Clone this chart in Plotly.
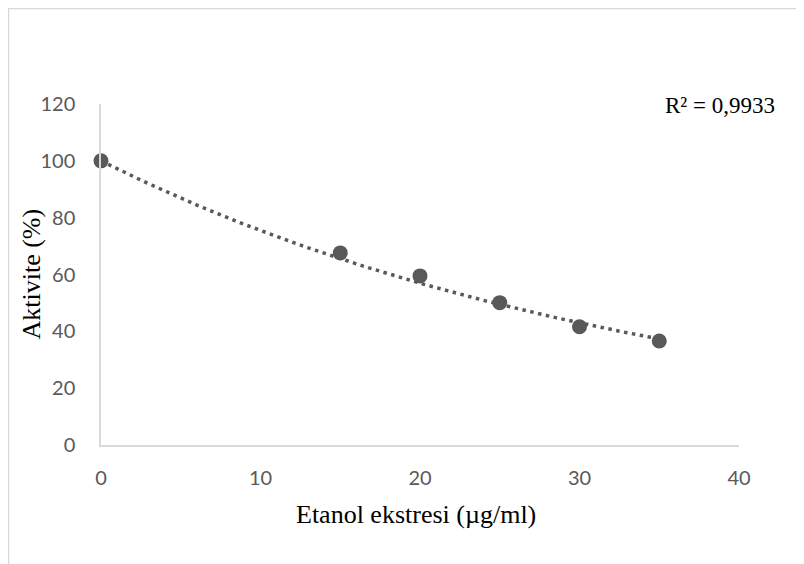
import numpy as np
import plotly.graph_objects as go

concentration = [0, 15, 20, 25, 30, 35]
activity = [100, 67.6, 59.5, 50.1, 41.6, 36.6]
x_ticks = [0, 10, 20, 30, 40]
y_ticks = [0, 20, 40, 60, 80, 100, 120]
r2_label = "R² = 0,9933"
trend_intercept = 100.0  # exponential trendline with intercept set to 100

# exponential trendline, least squares in log space with fixed intercept
xc = np.array(concentration, dtype=float)
yc = np.array(activity, dtype=float)
b = np.sum(xc * (np.log(yc) - np.log(trend_intercept))) / np.sum(xc ** 2)
xt = np.linspace(xc.min(), xc.max(), 300)
yt = trend_intercept * np.exp(b * xt)

grey = "#595959"
tick_font = dict(family="Lato, Open Sans, sans-serif", size=20, color=grey)
serif = "Liberation Serif, Times New Roman, serif"

fig = go.Figure()
fig.add_trace(go.Scatter(x=xt, y=yt, mode="lines",
                         line=dict(color=grey, width=3.5, dash="3.5px,4.5px"),
                         hoverinfo="skip", showlegend=False))
fig.add_trace(go.Scatter(x=concentration, y=activity, mode="markers",
                         marker=dict(color=grey, size=15),
                         cliponaxis=False, showlegend=False))

fig.update_layout(
    width=796, height=556,
    paper_bgcolor="white", plot_bgcolor="white",
    margin=dict(l=93, r=65, t=96, b=119),
    xaxis=dict(range=[0, 40], tickvals=x_ticks, showgrid=False, zeroline=False,
               showline=True, linecolor="#d9d9d9", linewidth=1.5,
               ticks="", ticklabelstandoff=14, tickfont=tick_font),
    yaxis=dict(range=[0, 120], tickvals=y_ticks, showgrid=False, zeroline=False,
               showline=True, linecolor="#d9d9d9", linewidth=1.5,
               ticks="", ticklabelstandoff=20, tickfont=tick_font),
    shapes=[dict(type="rect", xref="paper", yref="paper", x0=-0.145, x1=1.2, y0=-0.6, y1=1.28,
                 line=dict(color="#d9d9d9", width=1.5), fillcolor="rgba(0,0,0,0)", layer="below")],
    annotations=[
        dict(text=r2_label, xref="paper", yref="paper", x=1.0596, y=0.997,
             xanchor="right", yanchor="middle", showarrow=False,
             font=dict(family=serif, size=23, color="black")),
        dict(text="Etanol ekstresi (µg/ml)", xref="paper", yref="paper", x=0.4937, y=-0.205,
             xanchor="center", yanchor="middle", showarrow=False,
             font=dict(family=serif, size=26, color="black")),
        dict(text="Aktivite (%)", xref="paper", yref="paper", x=-0.1097, y=0.5,
             xanchor="center", yanchor="middle", showarrow=False, textangle=-90,
             font=dict(family=serif, size=26, color="black")),
    ],
)

fig.write_html("out.html")
